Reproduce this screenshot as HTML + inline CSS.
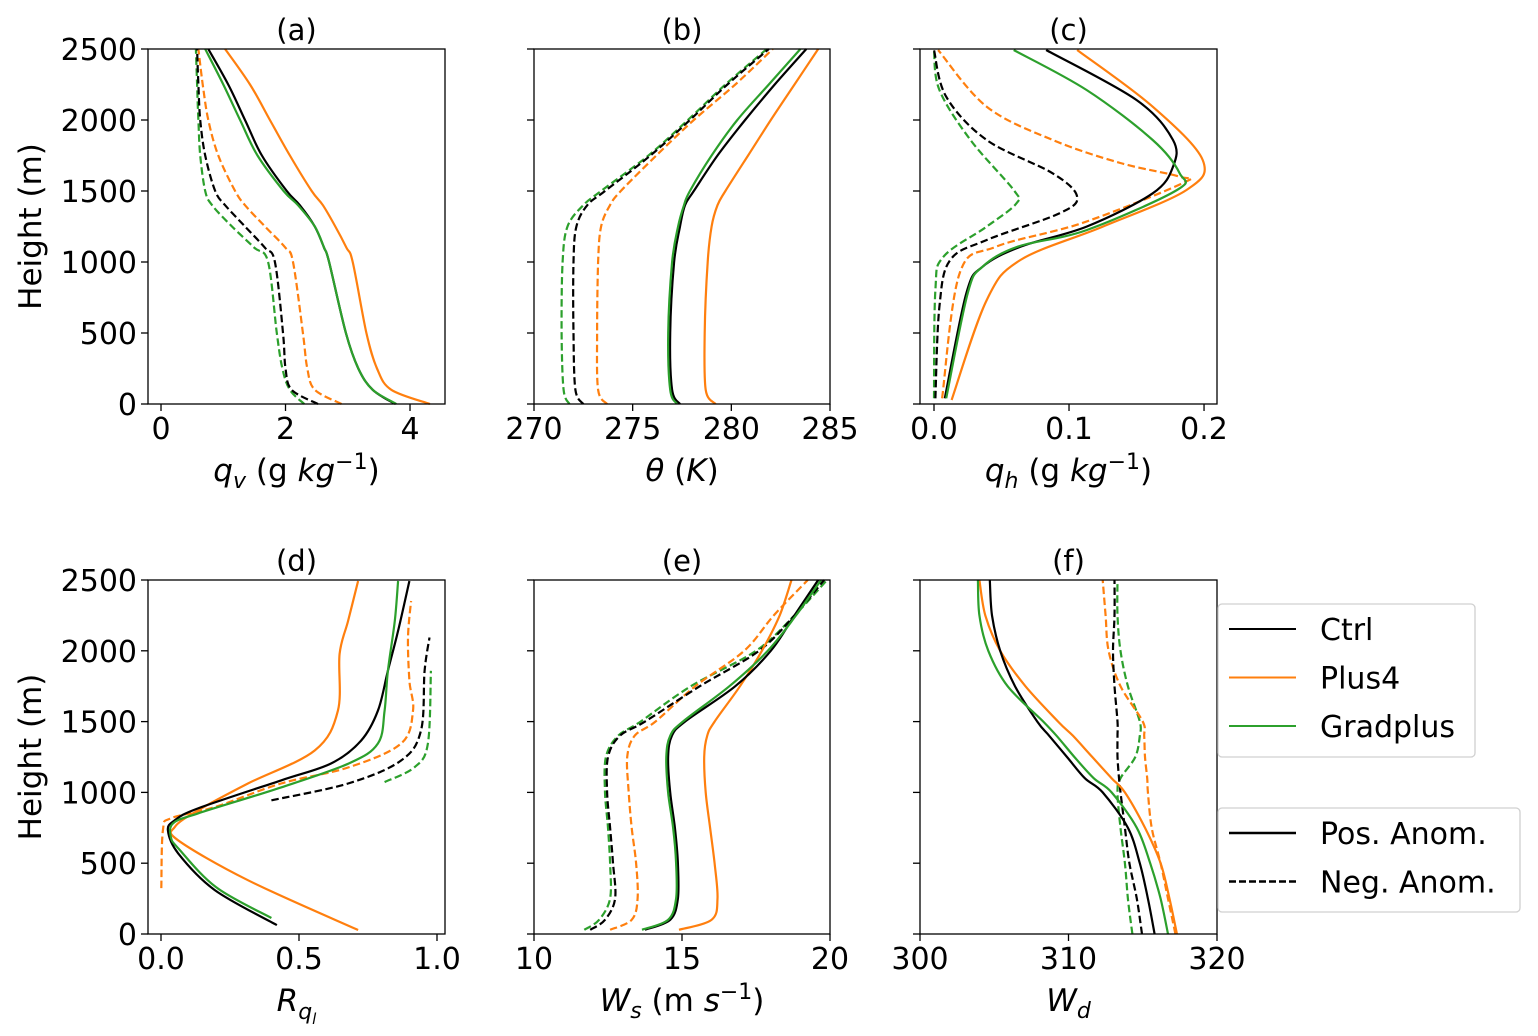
<!DOCTYPE html>
<html><head><meta charset="utf-8">
<style>
html,body{margin:0;padding:0;background:#fff;}
svg{display:block;font-family:"DejaVu Sans","Liberation Sans",sans-serif;}
</style></head>
<body>
<svg id="fig" width="1538" height="1036" viewBox="0 0 1538 1036" xmlns="http://www.w3.org/2000/svg"></svg>
<script>
// ---- data ----
const hA = [0,100,250,500,1000,1100,1250,1400,1500,1750,2000,2250,2500];
const aCtrlPos = [3.76,3.4,3.17,2.97,2.7,2.62,2.47,2.23,2.02,1.62,1.35,1.08,0.76];
const aGradPos = [3.78,3.4,3.17,2.97,2.7,2.62,2.47,2.2,1.97,1.55,1.27,1.0,0.71];
const aPlus4Pos = [4.32,3.7,3.47,3.3,3.08,2.98,2.8,2.6,2.42,2.07,1.75,1.43,1.03];
const aCtrlNeg = [2.52,2.1,2.0,1.96,1.83,1.67,1.35,1.03,0.87,0.71,0.63,0.6,0.58];
const aGradNeg = [2.3,2.07,1.95,1.86,1.72,1.5,1.14,0.82,0.71,0.63,0.6,0.58,0.56];
const aPlus4Neg = [2.9,2.47,2.35,2.28,2.12,2.0,1.67,1.35,1.19,0.92,0.76,0.67,0.6];

const hB = [0,100,500,1000,1250,1400,1500,1750,2000,2250,2500];
const bCtrlPos = [277.4,277.0,276.9,277.1,277.4,277.65,278.1,279.3,280.7,282.2,283.8];
const bGradPos = [277.25,276.9,276.8,277.0,277.3,277.6,277.9,279.0,280.3,281.9,283.5];
const bPlus4Pos = [279.2,278.7,278.65,278.8,279.0,279.3,279.7,280.85,282.0,283.2,284.4];
const bCtrlNeg = [272.5,272.1,272.0,272.0,272.15,272.7,273.6,275.9,277.9,279.8,281.9];
const bGradNeg = [271.8,271.5,271.4,271.45,271.7,272.5,273.4,275.8,277.8,279.7,281.8];
const bPlus4Neg = [273.7,273.25,273.2,273.25,273.4,273.85,274.4,276.2,278.1,280.2,282.1];

const cCtrlPosH = [40,782,967,1108,1249,1484,1671,1859,2141,2493];
const cCtrlPos = [0.008,0.024,0.036,0.064,0.113,0.162,0.177,0.177,0.150,0.083];
const cGradPosH = [40,782,967,1108,1225,1507,1624,1859,2211,2493];
const cGradPos = [0.009,0.025,0.036,0.062,0.113,0.18,0.182,0.162,0.113,0.059];
const cPlus4PosH = [28,732,1014,1249,1507,1718,2094,2493];
const cPlus4Pos = [0.013,0.039,0.064,0.125,0.187,0.199,0.162,0.106];
const cCtrlNegH = [40,685,1014,1155,1343,1460,1624,1859,2164,2493];
const cCtrlNeg = [0.001,0.004,0.012,0.039,0.093,0.106,0.088,0.039,0.009,0.0];
const cGradNegH = [40,803,1037,1249,1413,1507,1859,2211,2493];
const cGradNeg = [0.0,0.001,0.007,0.039,0.061,0.059,0.027,0.004,0.0];
const cPlus4NegH = [40,922,1108,1275,1554,1601,1697,1859,2094,2493];
const cPlus4Neg = [0.006,0.019,0.046,0.11,0.184,0.182,0.138,0.088,0.039,0.003];

const dCtrlPosH = [63,310,570,732,803,887,1085,1204,1366,1577,1859,2141,2493];
const dCtrlPos = [0.42,0.195,0.062,0.025,0.05,0.134,0.435,0.616,0.725,0.786,0.822,0.859,0.90];
const dGradPosH = [113,330,600,683,782,852,1035,1204,1345,1577,1859,2211,2493];
const dGradPos = [0.40,0.2,0.065,0.036,0.044,0.134,0.435,0.68,0.786,0.81,0.822,0.847,0.859];
const dPlus4PosH = [28,380,662,756,873,1063,1296,1577,1978,2211,2493];
const dPlus4Pos = [0.714,0.315,0.062,0.05,0.134,0.315,0.557,0.641,0.647,0.678,0.714];
const dCtrlNegH = [944,1063,1225,1437,1859,2094];
const dCtrlNeg = [0.40,0.678,0.87,0.942,0.955,0.973];
const dGradNegH = [1073,1178,1345,1859];
const dGradNeg = [0.81,0.919,0.967,0.978];
const dPlus4NegH = [324,732,817,896,1063,1176,1345,1577,1789,2094,2352];
const dPlus4Neg = [0.001,0.007,0.036,0.195,0.435,0.678,0.87,0.913,0.9,0.895,0.906];

const hE = [30,100,250,500,750,1000,1250,1400,1500,1750,2000,2250,2500];
const eCtrlPos = [13.75,14.6,14.86,14.86,14.76,14.6,14.53,14.66,15.1,16.8,18.0,18.8,19.6];
const eGradPos = [13.65,14.53,14.8,14.8,14.7,14.53,14.47,14.6,15.03,16.6,17.9,18.85,19.7];
const ePlus4Pos = [14.9,16.0,16.2,16.1,15.95,15.8,15.75,15.85,16.1,16.96,17.7,18.3,18.7];
const eCtrlNeg = [11.9,12.4,12.74,12.67,12.57,12.47,12.5,12.9,13.75,15.6,17.6,18.8,19.8];
const eGradNeg = [11.7,12.2,12.57,12.57,12.5,12.4,12.43,12.84,13.6,15.3,17.5,18.8,19.9];
const ePlus4Neg = [12.57,13.3,13.5,13.45,13.3,13.2,13.15,13.4,14.1,15.45,17.1,18.1,19.25];

const hF = [0,250,500,750,1000,1100,1250,1400,1500,1750,2000,2250,2500];
const fCtrlPos = [315.8,315.35,314.8,314.0,312.3,311.1,309.9,308.7,307.9,306.4,305.4,304.85,304.7];
const fGradPos = [316.7,316.2,315.5,314.6,312.9,311.7,310.4,309.2,308.3,305.9,304.6,304.0,303.9];
const fPlus4Pos = [317.3,316.8,316.2,315.15,313.8,312.9,311.6,310.3,309.3,307.1,305.4,304.4,304.0];
const fCtrlNeg = [314.95,314.6,314.1,313.8,313.5,313.4,313.3,313.3,313.3,313.1,313.0,313.1,313.1];
const fGradNeg = [314.3,314.0,313.8,313.5,313.3,313.5,314.5,314.8,314.8,314.0,313.5,313.3,313.3];
const fPlus4Neg = [317.2,316.7,316.2,315.6,315.35,315.3,315.15,315.1,315.0,313.5,312.7,312.5,312.3];

const yTicks = [0,500,1000,1500,2000,2500];
const aTicks = [0,2,4]; const aTickLabels = ["0","2","4"];
const bTicks = [270,275,280,285]; const bTickLabels = ["270","275","280","285"];
const cTicks = [0,0.1,0.2]; const cTickLabels = ["0.0","0.1","0.2"];
const dTicks = [0,0.5,1.0]; const dTickLabels = ["0.0","0.5","1.0"];
const eTicks = [10,15,20]; const eTickLabels = ["10","15","20"];
const fTicks = [300,310,320]; const fTickLabels = ["300","310","320"];

// ---- drawing ----
const NS = "http://www.w3.org/2000/svg";
const svg = document.getElementById('fig');
const BLACK = "#000000", ORANGE = "#ff7f0e", GREEN = "#2ca02c";
function mk(tag, attrs, parent){ const e=document.createElementNS(NS,tag); for(const k in attrs) e.setAttribute(k,attrs[k]); (parent||svg).appendChild(e); return e; }

function smoothPath(pts){
  let d = "M"+pts[0][0].toFixed(1)+","+pts[0][1].toFixed(1);
  for(let i=0;i<pts.length-1;i++){
    const p0=pts[Math.max(i-1,0)], p1=pts[i], p2=pts[i+1], p3=pts[Math.min(i+2,pts.length-1)];
    const c1=[p1[0]+(p2[0]-p0[0])/6, p1[1]+(p2[1]-p0[1])/6];
    const c2=[p2[0]-(p3[0]-p1[0])/6, p2[1]-(p3[1]-p1[1])/6];
    d+=" C"+c1[0].toFixed(1)+","+c1[1].toFixed(1)+" "+c2[0].toFixed(1)+","+c2[1].toFixed(1)+" "+p2[0].toFixed(1)+","+p2[1].toFixed(1);
  }
  return d;
}

function panel(cfg){
  const g = mk('g',{});
  
  
  const L=cfg.x0, R=cfg.x1, T=cfg.y0, B=cfg.y1;
  const sx = v => L + (v-cfg.xmin)/(cfg.xmax-cfg.xmin)*(R-L);
  const sy = h => B - h/2500*(B-T);
  cfg.series.forEach(s=>{
    const pts = s.h.map((h,i)=>[sx(s.v[i]), sy(h)]);
    const p = mk('path',{d:smoothPath(pts),fill:"none",stroke:s.c,"stroke-width":2.2,"stroke-dasharray":s.dash?"7.5,3.5":"none"},g);
    
    
  });
  const fr = mk('rect',{x:L,y:T,width:R-L,height:B-T,fill:"none",stroke:"#000","stroke-width":1.3},g);
  
  
  yTicks.forEach(t=>{
    const y=sy(t);
    mk('line',{x1:L-7,x2:L,y1:y,y2:y,stroke:"#000","stroke-width":1.3},g);
    if(cfg.ylabels){
      const tx = mk('text',{x:L-11,y:y+11,"text-anchor":"end","font-size":30,fill:"#000"},g);
      tx.textContent=String(t);
      
      
    }
  });
  cfg.xt.forEach((t,i)=>{
    const x=sx(t);
    mk('line',{x1:x,x2:x,y1:B,y2:B+7,stroke:"#000","stroke-width":1.3},g);
    const tx = mk('text',{x:x,y:B+35,"text-anchor":"middle","font-size":30,fill:"#000"},g);
    tx.textContent=cfg.xl[i];
    
    
  });
  const ti = mk('text',{x:(L+R)/2,y:T-9,"text-anchor":"middle","font-size":29,fill:"#000"},g);
  ti.textContent="("+cfg.id+")";
  
  
  const xl = mk('text',{x:(L+R)/2,y:B+77,"text-anchor":"middle","font-size":31,fill:"#000"},g);
  xl.innerHTML = cfg.label;
  
  
  if(cfg.ylabels){
    const yl = mk('text',{x:0,y:0,"text-anchor":"middle","font-size":31,fill:"#000",transform:"translate(41,"+((T+B)/2)+") rotate(-90)"},g);
    yl.textContent="Height (m)";
    
    
  }
}
function S(name,h,v,c,dash){return {name,h,v,c,dash};}
const TOP=[49,404], BOT=[580,934];
const sup = '<tspan font-size="22" dy="-12">−1</tspan><tspan dy="12">)</tspan>';
panel({id:"a",x0:148,x1:445,y0:TOP[0],y1:TOP[1],xmin:-0.209,xmax:4.562,xt:aTicks,xl:aTickLabels,ylabels:true,
  label:'<tspan font-style="italic">q</tspan><tspan font-style="italic" font-size="22" dy="7">v</tspan><tspan dy="-7"> (g </tspan><tspan font-style="italic">kg</tspan>'+sup,
  series:[S("gradplus-neg",hA,aGradNeg,GREEN,1),S("plus4-neg",hA,aPlus4Neg,ORANGE,1),S("ctrl-neg",hA,aCtrlNeg,BLACK,1),
          S("plus4-pos",hA,aPlus4Pos,ORANGE,0),S("ctrl-pos",hA,aCtrlPos,BLACK,0),S("gradplus-pos",hA,aGradPos,GREEN,0)]});
panel({id:"b",x0:534,x1:830,y0:TOP[0],y1:TOP[1],xmin:270,xmax:285,xt:bTicks,xl:bTickLabels,ylabels:false,
  label:'<tspan font-style="italic">θ</tspan> (<tspan font-style="italic">K</tspan>)',
  series:[S("gradplus-neg",hB,bGradNeg,GREEN,1),S("plus4-neg",hB,bPlus4Neg,ORANGE,1),S("ctrl-neg",hB,bCtrlNeg,BLACK,1),
          S("plus4-pos",hB,bPlus4Pos,ORANGE,0),S("ctrl-pos",hB,bCtrlPos,BLACK,0),S("gradplus-pos",hB,bGradPos,GREEN,0)]});
panel({id:"c",x0:920,x1:1217,y0:TOP[0],y1:TOP[1],xmin:-0.01037,xmax:0.2096,xt:cTicks,xl:cTickLabels,ylabels:false,
  label:'<tspan font-style="italic">q</tspan><tspan font-style="italic" font-size="22" dy="7">h</tspan><tspan dy="-7"> (g </tspan><tspan font-style="italic">kg</tspan>'+sup,
  series:[S("gradplus-neg",cGradNegH,cGradNeg,GREEN,1),S("plus4-neg",cPlus4NegH,cPlus4Neg,ORANGE,1),S("ctrl-neg",cCtrlNegH,cCtrlNeg,BLACK,1),
          S("plus4-pos",cPlus4PosH,cPlus4Pos,ORANGE,0),S("ctrl-pos",cCtrlPosH,cCtrlPos,BLACK,0),S("gradplus-pos",cGradPosH,cGradPos,GREEN,0)]});
panel({id:"d",x0:148,x1:445,y0:BOT[0],y1:BOT[1],xmin:-0.0471,xmax:1.029,xt:dTicks,xl:dTickLabels,ylabels:true,
  label:'<tspan font-style="italic">R</tspan><tspan font-style="italic" font-size="22" dy="8">q</tspan><tspan font-style="italic" font-size="15" dy="5">l</tspan>',
  series:[S("gradplus-neg",dGradNegH,dGradNeg,GREEN,1),S("plus4-neg",dPlus4NegH,dPlus4Neg,ORANGE,1),S("ctrl-neg",dCtrlNegH,dCtrlNeg,BLACK,1),
          S("plus4-pos",dPlus4PosH,dPlus4Pos,ORANGE,0),S("ctrl-pos",dCtrlPosH,dCtrlPos,BLACK,0),S("gradplus-pos",dGradPosH,dGradPos,GREEN,0)]});
panel({id:"e",x0:534,x1:830,y0:BOT[0],y1:BOT[1],xmin:10,xmax:20,xt:eTicks,xl:eTickLabels,ylabels:false,
  label:'<tspan font-style="italic">W</tspan><tspan font-style="italic" font-size="22" dy="7">s</tspan><tspan dy="-7"> (m </tspan><tspan font-style="italic">s</tspan>'+sup,
  series:[S("gradplus-neg",hE,eGradNeg,GREEN,1),S("plus4-neg",hE,ePlus4Neg,ORANGE,1),S("ctrl-neg",hE,eCtrlNeg,BLACK,1),
          S("plus4-pos",hE,ePlus4Pos,ORANGE,0),S("ctrl-pos",hE,eCtrlPos,BLACK,0),S("gradplus-pos",hE,eGradPos,GREEN,0)]});
panel({id:"f",x0:920,x1:1217,y0:BOT[0],y1:BOT[1],xmin:300,xmax:320,xt:fTicks,xl:fTickLabels,ylabels:false,
  label:'<tspan font-style="italic">W</tspan><tspan font-style="italic" font-size="22" dy="7">d</tspan>',
  series:[S("gradplus-neg",hF,fGradNeg,GREEN,1),S("plus4-neg",hF,fPlus4Neg,ORANGE,1),S("ctrl-neg",hF,fCtrlNeg,BLACK,1),
          S("plus4-pos",hF,fPlus4Pos,ORANGE,0),S("ctrl-pos",hF,fCtrlPos,BLACK,0),S("gradplus-pos",hF,fGradPos,GREEN,0)]});

function legend(name,x,y,w,h,entries,lw){
  const g = mk('g',{});
  
  
  mk('rect',{x:x,y:y,width:w,height:h,rx:4,fill:"#fff",stroke:"#d0d0d0","stroke-width":1.3},g);
  entries.forEach((e,i)=>{
    const cy = y+25+i*48.5;
    mk('line',{x1:x+11,x2:x+78,y1:cy,y2:cy,stroke:e.c,"stroke-width":lw,"stroke-dasharray":e.dash?"7,3":"none"},g);
    const t = mk('text',{x:x+102,y:cy+11,"font-size":30,fill:"#000"},g);
    t.textContent=e.t;
    
    
  });
}
legend("color-legend",1218,604,257,153,[{t:"Ctrl",c:BLACK},{t:"Plus4",c:ORANGE},{t:"Gradplus",c:GREEN}],2);
legend("style-legend",1218,808,302,104,[{t:"Pos. Anom.",c:BLACK},{t:"Neg. Anom.",c:BLACK,dash:1}],2.6);
</script>
</body></html>
